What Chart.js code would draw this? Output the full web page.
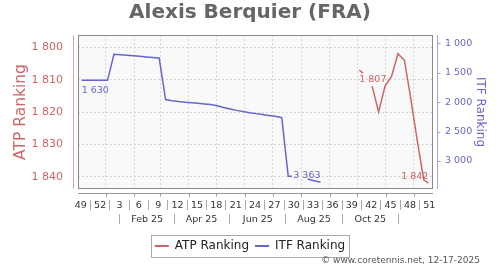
<!DOCTYPE html>
<html>
<head>
<meta charset="utf-8">
<title>Alexis Berquier (FRA)</title>
<script src="https://cdn.jsdelivr.net/npm/chart.js@4.4.1/dist/chart.umd.min.js"></script>
<style>
  html, body { margin: 0; padding: 0; background: #fff; }
  canvas { display: block; }
</style>
</head>
<body>
<canvas id="rankChart" width="500" height="270"></canvas>
<script>
// ── ranking data (one point per published ranking) ──
const itfDates = ['2024-12-06', '2024-12-13', '2024-12-20', '2024-12-27', '2025-01-03', '2025-01-10', '2025-01-17',
  '2025-01-24', '2025-01-31', '2025-02-07', '2025-02-14', '2025-02-21', '2025-02-28', '2025-03-07', '2025-03-14',
  '2025-03-21', '2025-03-28', '2025-04-04', '2025-04-11', '2025-04-18', '2025-04-25', '2025-05-02', '2025-05-09',
  '2025-05-16', '2025-05-23', '2025-05-30', '2025-06-06', '2025-06-13', '2025-06-20', '2025-06-27', '2025-07-04',
  '2025-07-11', '2025-07-18', '2025-07-22', '2025-08-08', '2025-08-15', '2025-08-22'];
const itfRanks = [1630, 1630, 1630, 1630, 1630, 1187, 1196, 1205, 1213, 1222, 1231, 1240, 1250, 1955, 1975,
  1990, 2000, 2010, 2020, 2030, 2040, 2060, 2090, 2115, 2140, 2160, 2180, 2195, 2210, 2225, 2240,
  2265, 3260, 3260, 3307, 3335, 3363];

const atpDates = ['2025-10-03', '2025-10-07', '2025-10-17', '2025-10-24', '2025-10-31', '2025-11-07',
  '2025-11-14', '2025-11-21', '2025-11-28', '2025-12-05', '2025-12-12', '2025-12-17'];
const atpRanks = [1807, 1808, 1812, 1820, 1812, 1809, 1802, 1804, 1816, 1829, 1841, 1842];

// ── axis ticks ──
const atpTicks = [1800, 1810, 1820, 1830, 1840];
const itfTicks = [1000, 1500, 2000, 2500, 3000];
const weekLabels = ['49', '52', '3', '6', '9', '12', '15', '18', '21', '24', '27', '30', '33', '36', '39', '42', '45', '48', '51'];
const weekTickDates = ['2024-12-05', '2024-12-26', '2025-01-16', '2025-02-06', '2025-02-27', '2025-03-20', '2025-04-10',
  '2025-05-01', '2025-05-22', '2025-06-12', '2025-07-03', '2025-07-24', '2025-08-14', '2025-09-04', '2025-09-25',
  '2025-10-16', '2025-11-06', '2025-11-27', '2025-12-18'];
const monthLabels = ['Feb 25', 'Apr 25', 'Jun 25', 'Aug 25', 'Oct 25'];
const monthLabelDates = ['2025-02-15', '2025-04-15', '2025-06-15', '2025-08-15', '2025-10-15'];
const monthGrid = ['2025-01-01', '2025-02-01', '2025-03-01', '2025-04-01', '2025-05-01', '2025-06-01',
  '2025-07-01', '2025-08-01', '2025-09-01', '2025-10-01', '2025-11-01', '2025-12-01'];

const ATP_COL = '#cc6666';
const ITF_COL = '#6666cc';
const FONT = '"DejaVu Sans", sans-serif';

const T0 = Date.parse('2024-12-05');
const day = s => (Date.parse(s) - T0) / 864e5;
const X_MIN = day('2024-12-02'), X_MAX = day('2025-12-22');
const fmt = v => String(Math.round(v)).replace(/\B(?=(\d{3})+(?!\d))/g, ' ');

Chart.defaults.font.family = FONT;

// plot frame, offset axis lines, end labels, legend box, footer
const chromePlugin = {
  id: 'chrome',
  beforeDraw(chart) {
    const { ctx, chartArea: a } = chart;
    ctx.save();
    ctx.fillStyle = '#f9f9f9';
    ctx.fillRect(a.left, a.top, a.width, a.height);
    ctx.restore();
  },
  afterDraw(chart) {
    const { ctx, chartArea: a, scales } = chart;
    const line = (c, x1, y1, x2, y2) => {
      ctx.strokeStyle = c; ctx.beginPath(); ctx.moveTo(x1, y1); ctx.lineTo(x2, y2); ctx.stroke();
    };
    ctx.save();
    ctx.lineWidth = 1;
    ctx.strokeStyle = '#888';
    ctx.strokeRect(a.left + 0.5, a.top + 0.5, a.width - 1, a.height - 1);

    const lx = Math.round(a.left) - 4.5, rx = Math.round(a.right) + 4.5, by = Math.round(a.bottom) + 4.5;
    line('#e0a3a3', lx, a.top, lx, a.bottom);
    line('#a3a3e0', rx, a.top, rx, a.bottom);
    line('#999', a.left, by, a.right, by);
    scales.x.ticks.forEach(t => {
      const px = Math.round(scales.x.getPixelForValue(t.value)) + 0.5;
      line('#999', px, by, px, by + 3);
    });
    scales.itf.ticks.forEach(t => {
      const py = Math.round(scales.itf.getPixelForValue(t.value)) + 0.5;
      line('#a3a3e0', rx, py, rx + 3, py);
    });

    ctx.font = '9.5px ' + FONT;
    ctx.textBaseline = 'middle';
    chart.data.datasets.forEach((ds, i) => {
      const pts = chart.getDatasetMeta(i).data;
      const p0 = pts[0], pn = pts[pts.length - 1];
      ctx.fillStyle = ds.borderColor;
      ctx.textAlign = 'left';
      ctx.fillText(fmt(ds.data[0].y), p0.x, p0.y + 10);
      ctx.textAlign = 'right';
      ctx.fillText(fmt(ds.data[ds.data.length - 1].y), pn.x, pn.y - 7);
    });

    const hb = chart.legend.legendHitBoxes;
    if (hb && hb.length) {
      const l = hb[0].left - 4, r = hb[hb.length - 1].left + hb[hb.length - 1].width + 4;
      ctx.strokeStyle = '#aaa';
      ctx.strokeRect(Math.round(l) + 0.5, Math.round(hb[0].top - 5) + 0.5, Math.round(r - l), 22);
    }

    ctx.fillStyle = '#555';
    ctx.font = '9px ' + FONT;
    ctx.textAlign = 'right';
    ctx.fillText('© www.coretennis.net, 12-17-2025', 480, 260.5);
    ctx.restore();
  }
};

const xBase = { type: 'linear', position: 'bottom', min: X_MIN, max: X_MAX };
const xLabelFont = { family: FONT, size: 9.5 };

new Chart(document.getElementById('rankChart'), {
  type: 'line',
  data: {
    datasets: [{
      label: 'ATP Ranking',
      data: atpDates.map((d, i) => ({ x: day(d), y: atpRanks[i] })),
      borderColor: ATP_COL,
      backgroundColor: ATP_COL,
      borderWidth: 1.5,
      pointRadius: 0,
      spanGaps: 8,
      yAxisID: 'atp'
    }, {
      label: 'ITF Ranking',
      data: itfDates.map((d, i) => ({ x: day(d), y: itfRanks[i] })),
      borderColor: ITF_COL,
      backgroundColor: ITF_COL,
      borderWidth: 1.5,
      pointRadius: 0,
      spanGaps: 8,
      yAxisID: 'itf'
    }]
  },
  options: {
    responsive: false,
    animation: false,
    devicePixelRatio: 1,
    events: [],
    layout: { padding: { left: 0, right: 0, top: 0, bottom: 8 } },
    plugins: {
      title: {
        display: true,
        text: 'Alexis Berquier (FRA)',
        color: '#666',
        font: { family: FONT, size: 20, weight: 'bold' },
        padding: { top: 1, bottom: 10 }
      },
      legend: {
        position: 'bottom',
        labels: {
          boxWidth: 14,
          boxHeight: 2,
          padding: 6,
          color: '#222',
          font: { family: FONT, size: 12 },
          generateLabels: ch => Chart.defaults.plugins.legend.labels.generateLabels(ch)
            .map(l => Object.assign(l, { lineWidth: 0 }))
        }
      },
      tooltip: { enabled: false }
    },
    scales: {
      // month grid lines
      x: Object.assign({}, xBase, {
        weight: 1,
        afterBuildTicks: s => { s.ticks = monthGrid.map(d => ({ value: day(d) })); },
        afterFit: s => { s.height = 11; },
        ticks: { display: false },
        grid: { color: '#d6d6d6', drawTicks: true, tickLength: 11, tickColor: 'rgba(0,0,0,0)' },
        border: { display: false, dash: [2, 2] }
      }),
      // ISO week numbers
      xw: Object.assign({}, xBase, {
        weight: 2,
        afterBuildTicks: s => { s.ticks = weekTickDates.map(d => ({ value: day(d) })); },
        afterFit: s => { s.height = 14; },
        ticks: { autoSkip: false, maxRotation: 0, padding: -10, color: '#333', font: xLabelFont,
          callback: (v, i) => weekLabels[i] },
        grid: { offset: true, drawOnChartArea: false, tickLength: 10, tickColor: '#aaa' },
        border: { display: false }
      }),
      // two-month labels
      xm: Object.assign({}, xBase, {
        weight: 3,
        afterBuildTicks: s => { s.ticks = monthLabelDates.map(d => ({ value: day(d) })); },
        afterFit: s => { s.height = 20; },
        ticks: { autoSkip: false, maxRotation: 0, padding: -10, color: '#333', font: xLabelFont,
          callback: (v, i) => monthLabels[i] },
        grid: { offset: true, drawOnChartArea: false, tickLength: 10, tickColor: '#aaa' },
        border: { display: false }
      }),
      atp: {
        type: 'linear', position: 'left', reverse: true, min: 1796.2, max: 1843.8,
        afterBuildTicks: s => { s.ticks = atpTicks.map(v => ({ value: v })); },
        afterFit: s => { s.width = 78; },
        ticks: { padding: 15, color: ATP_COL, font: { family: FONT, size: 11 }, callback: v => fmt(v) },
        grid: { color: '#d6d6d6', drawTicks: false },
        border: { display: false, dash: [2, 2] },
        title: { display: true, text: 'ATP Ranking', color: ATP_COL,
          font: { family: FONT, size: 15.5 }, padding: { top: 11.5, bottom: 0 } }
      },
      itf: {
        type: 'linear', position: 'right', reverse: true, min: 859, max: 3476,
        afterBuildTicks: s => { s.ticks = itfTicks.map(v => ({ value: v })); },
        afterFit: s => { s.width = 67; },
        ticks: { padding: 12, color: ITF_COL, font: { family: FONT, size: 9.5 }, callback: v => fmt(v) },
        grid: { display: false, drawTicks: false },
        border: { display: false },
        title: { display: true, text: 'ITF Ranking', color: ITF_COL,
          font: { family: FONT, size: 12 }, padding: { top: 13, bottom: 0 } }
      }
    }
  },
  plugins: [chromePlugin]
});
</script>
</body>
</html>
